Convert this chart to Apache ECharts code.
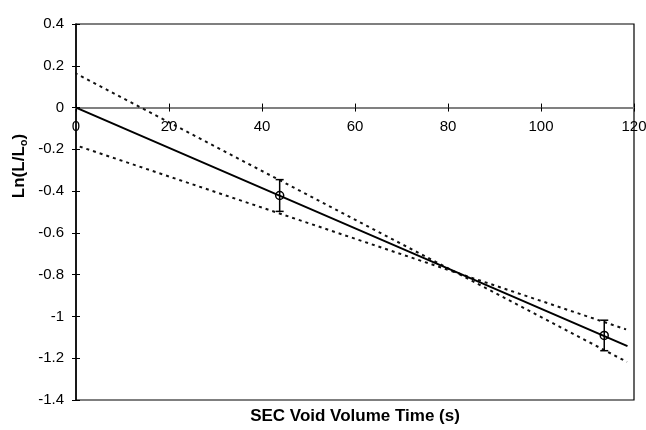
<!DOCTYPE html>
<html>
<head>
<meta charset="utf-8">
<script src="https://cdn.jsdelivr.net/npm/echarts@6/dist/echarts.min.js"></script>
<style>html,body{margin:0;padding:0;background:#fff}#c{width:646px;height:430px}</style>
</head>
<body>
<div id="c"></div>
<script>
// Measured points with error bars
const pointX = [43.8, 113.6];
const pointY = [-0.421, -1.091];
const pointErr = [0.076, 0.073];
// Regression line (through origin)
const fitX = [0, 118.6];
const fitY = [0, -1.142];
// Upper/steep bounding line
const steepX = [-1.6, 118.5];
const steepY = [0.181, -1.218];
// Lower/shallow bounding line
const shallowX = [0.8, 118.3];
const shallowY = [-0.187, -1.062];
// Axes
const xTicks = [0, 20, 40, 60, 80, 100, 120];
const yTicks = [0.4, 0.2, 0, -0.2, -0.4, -0.6, -0.8, -1, -1.2, -1.4];
const xTitle = 'SEC Void Volume Time (s)';
const yTitleMain = 'Ln(L/L';
const yTitleSub = 'o';

const FONT = '"Liberation Sans", Arial, sans-serif';
const pairs = (xs, ys) => xs.map((x, i) => [x, ys[i]]);

const GRID = {left: 76, right: 12, top: 24, bottom: 30};
const H = 430;
const xMin = xTicks[0], xMax = xTicks[xTicks.length - 1];
const yMin = Math.min(...yTicks), yMax = Math.max(...yTicks);
const plotH = H - GRID.top - GRID.bottom;
// move the labelled x axis up to the y = 0 line
const zeroOffset = -((0 - yMin) / (yMax - yMin)) * plotH;

const chart = echarts.init(document.getElementById('c'), null, {renderer: 'canvas'});

chart.setOption({
  animation: false,
  backgroundColor: '#fff',
  grid: Object.assign({show: true, borderColor: '#000', borderWidth: 1.2, backgroundColor: 'transparent',
    containLabel: false, outerBoundsMode: 'none'}, GRID),
  xAxis: [
    {type: 'value', min: xMin, max: xMax, interval: 20, position: 'bottom', offset: zeroOffset,
     axisLine: {show: true, onZero: false, lineStyle: {color: '#808080', width: 2}},
     axisTick: {show: true, inside: false, length: 4, lineStyle: {color: '#000', width: 1}},
     axisLabel: {show: true, margin: 12, color: '#000', fontFamily: FONT, fontSize: 15},
     splitLine: {show: false}},
    {type: 'value', min: xMin, max: xMax, interval: 20, position: 'bottom', offset: zeroOffset,
     axisLine: {show: false, onZero: false},
     axisTick: {show: true, inside: true, length: 4, lineStyle: {color: '#000', width: 1}},
     axisLabel: {show: false}, splitLine: {show: false}}
  ],
  yAxis: [
    {type: 'value', min: yMin, max: yMax, interval: 0.2, position: 'left',
     axisLine: {show: true, onZero: false, lineStyle: {color: '#000', width: 1.5}},
     axisTick: {show: true, inside: false, length: 4, lineStyle: {color: '#000', width: 1}},
     axisLabel: {show: true, margin: 12, color: '#000', fontFamily: FONT, fontSize: 15, padding: [0, 0, 6, 0]},
     splitLine: {show: false}},
    {type: 'value', min: yMin, max: yMax, interval: 0.2, position: 'left', offset: 0,
     axisLine: {show: false, onZero: false},
     axisTick: {show: true, inside: true, length: 4, lineStyle: {color: '#000', width: 1}},
     axisLabel: {show: false}, splitLine: {show: false}}
  ],
  graphic: [
    {type: 'text', x: 355, y: 416, style: {text: xTitle, fill: '#000', font: 'bold 17px ' + FONT, align: 'center', verticalAlign: 'middle'}},
    {type: 'text', x: 19, y: 166, rotation: Math.PI / 2,
     style: {text: '{m|' + yTitleMain + '}{s|' + yTitleSub + '}{m|)}', align: 'center', verticalAlign: 'middle',
       rich: {m: {fill: '#000', fontWeight: 'bold', fontSize: 17, fontFamily: FONT, lineHeight: 20, verticalAlign: 'middle'},
              s: {fill: '#000', fontWeight: 'bold', fontSize: 11, fontFamily: FONT, lineHeight: 20, verticalAlign: 'bottom'}}}}
  ],
  series: [
    {type: 'line', data: pairs(steepX, steepY), symbol: 'none', clip: false,
     lineStyle: {color: '#111', width: 2, type: [3, 4]}, z: 3},
    {type: 'line', data: pairs(shallowX, shallowY), symbol: 'none', clip: false,
     lineStyle: {color: '#111', width: 2, type: [3, 4]}, z: 3},
    {type: 'line', data: pairs(fitX, fitY), symbol: 'none',
     lineStyle: {color: '#000', width: 2}, z: 4},
    {type: 'custom', data: pointX.map((x, i) => [x, pointY[i], pointErr[i]]), z: 5,
     renderItem: function (params, api) {
       const x = api.value(0), y = api.value(1), e = api.value(2);
       const top = api.coord([x, y + e]);
       const bot = api.coord([x, y - e]);
       const c = api.coord([x, y]);
       const hw = 4;
       const st = {stroke: '#000', lineWidth: 1.5, fill: null};
       return {type: 'group', children: [
         {type: 'line', shape: {x1: top[0], y1: top[1], x2: bot[0], y2: bot[1]}, style: st},
         {type: 'line', shape: {x1: top[0] - hw, y1: top[1], x2: top[0] + hw, y2: top[1]}, style: st},
         {type: 'line', shape: {x1: bot[0] - hw, y1: bot[1], x2: bot[0] + hw, y2: bot[1]}, style: st},
         {type: 'circle', shape: {cx: c[0], cy: c[1], r: 4}, style: {stroke: '#000', lineWidth: 1.5, fill: 'transparent'}}
       ]};
     }}
  ]
});
</script>
</body>
</html>
